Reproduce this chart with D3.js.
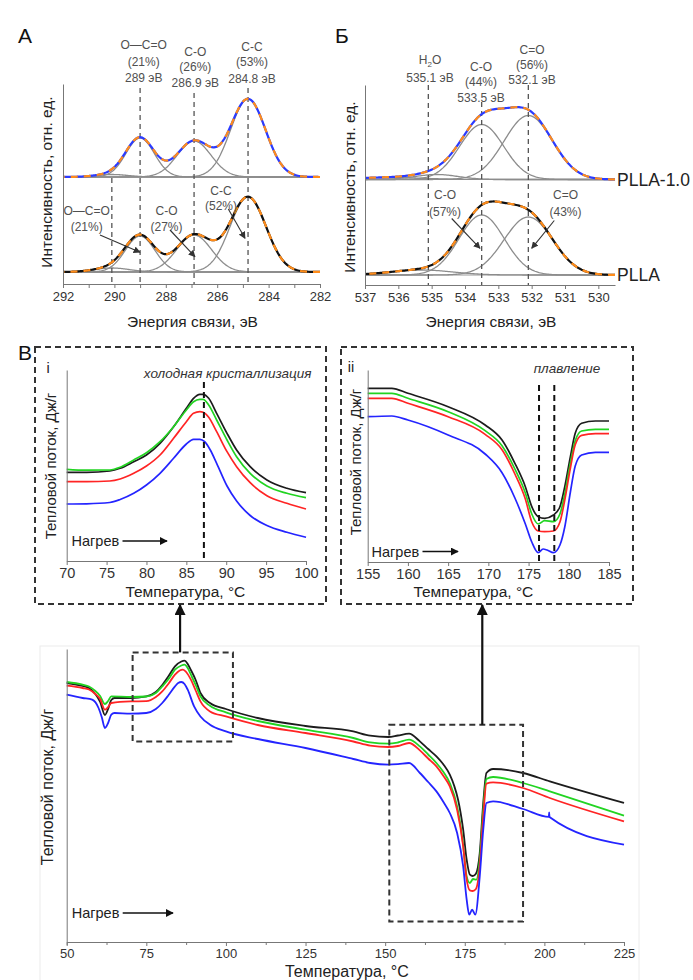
<!DOCTYPE html>
<html lang="ru">
<head>
<meta charset="UTF-8">
<title>РФЭС и ДСК PLLA</title>
<script src="https://d3js.org/d3.v7.min.js"></script>
<style>
    body { margin: 0; background: #fff; }
    svg { display: block; font-family: 'Liberation Sans', Arial, sans-serif; }
</style>
</head>
<body>
<svg id="fig" width="693" height="980"></svg>
<script>
    // ---------- data ----------
    // XPS fitted components: energy (eV), height (a.u.), FWHM (eV)
    const c1sPeaksPLLA10 = [
        { e: 290.1, h: 2.5, w: 1.5 },
        { e: 289.0, h: 39, w: 1.3 },
        { e: 286.9, h: 36, w: 1.55 },
        { e: 284.8, h: 78, w: 1.6 }
    ];
    const c1sPeaksPLLA = [
        { e: 290.1, h: 4, w: 1.6 },
        { e: 289.0, h: 36, w: 1.35 },
        { e: 286.9, h: 37, w: 1.6 },
        { e: 284.8, h: 75, w: 1.65 }
    ];
    const o1sPeaksPLLA10 = [
        { e: 536.3, h: 2, w: 2.5 },
        { e: 534.85, h: 5, w: 1.5 },
        { e: 533.5, h: 55, w: 1.55 },
        { e: 532.1, h: 64, w: 1.7 }
    ];
    const o1sPeaksPLLA = [
        { e: 535.3, h: 5, w: 2.2 },
        { e: 533.5, h: 60, w: 1.6 },
        { e: 532.1, h: 58, w: 1.72 }
    ];
    const c1sMarks = [290.1, 289.0, 286.9, 284.8];
    const o1sMarks = [535.1, 533.5, 532.1];
    const c1sTicks = d3.range(282, 293, 1);
    const o1sTicks = d3.range(530, 538, 1);
    const sampleNames = ["PLLA-1.0", "PLLA"];

    const c1sTopLabels = [["O—C=O", "(21%)", "289 эВ"], ["C-O", "(26%)", "286.9 эВ"], ["C-C", "(53%)", "284.8 эВ"]];
    const c1sBottomLabels = [["O—C=O", "(21%)"], ["C-O", "(27%)"], ["C-C", "(52%)"]];
    const o1sTopLabels = [["H2O", "535.1 эВ"], ["C-O", "(44%)", "533.5 эВ"], ["C=O", "(56%)", "532.1 эВ"]];
    const o1sBottomLabels = [["C-O", "(57%)"], ["C=O", "(43%)"]];

    // DSC curves: [temperature °C, heat flow a.u.]
    const zoomLowBlack = [[70,88.7],[72.5,88.6],[75.4,90],[76.7,92.7],[78.4,99.3],[80,106],[81.7,117.7],[83.4,134.3],[85,152.7],[85.9,162.7],[86.7,166.7],[87.1,166.7],[87.8,162.7],[88.8,147.7],[90.1,127.7],[91.3,111],[93,94.3],[95.1,81],[97.6,72.7],[100,68.3]];
    const zoomLowGreen = [[70,91.7],[72.5,90.8],[75.4,91],[76.7,93.7],[78.4,101],[80,108.3],[81.7,119.3],[83.4,134.3],[85,151],[85.9,159.3],[86.7,161.7],[87.1,161.7],[87.8,156],[88.8,141],[90.1,121],[91.3,104.3],[93,87.7],[95.1,75],[97.6,67.7],[100,63.3]];
    const zoomLowRed = [[70,79.3],[72.5,79.3],[75.4,80],[76.7,82],[78.4,87.7],[80,95],[81.7,106],[83.4,122.7],[85,139.3],[85.9,147.7],[86.7,149.3],[87.1,148.7],[87.8,143.7],[88.8,129.3],[90.1,109.3],[91.3,94.3],[93,78.3],[95.1,65.3],[97.6,57.7],[100,52]];
    const zoomLowBlue = [[70,57],[72.5,57.2],[75.4,58.5],[76.7,61.5],[78.4,67.7],[80,76],[81.7,87.7],[83.4,102.7],[85,117],[85.9,121.7],[86.7,121.7],[87.3,119.3],[88,111],[88.8,97.7],[90.1,75],[91.3,60],[93,45.5],[95.1,35.5],[97.6,28.7],[100,23.7]];

    const zoomHighBlack = [[155,173.7],[158,173.7],[160,168.7],[165,155.3],[169.6,137],[171.7,122],[173.3,98.7],[174.6,75.3],[175.4,55.3],[176.2,45.3],[177,43.7],[178.1,47],[178.9,55.3],[179.5,75.3],[180.2,105.3],[180.8,128.7],[181.6,138.7],[183.3,141],[185,141]];
    const zoomHighGreen = [[155,168.7],[158,168.7],[160,163.7],[165,150.3],[169.6,131.3],[171.7,116.3],[173.3,93],[174.6,69],[175.4,48],[176.2,38],[177,41.3],[178.1,40.3],[178.9,48],[179.5,68],[180.2,99],[180.8,121.3],[181.6,131],[183.3,132.7],[185,132.7]];
    const zoomHighRed = [[155,163.7],[158,163.7],[160,158.7],[165,145.3],[169.6,127.7],[171.7,112.3],[173.3,88],[174.6,63],[175.4,40],[176.2,31],[177,30.3],[178.1,31],[178.9,40],[179.5,62],[180.2,94],[180.8,117.3],[181.6,126.7],[183.3,128.3],[185,128.3]];
    const zoomHighBlue = [[155,145.3],[158,146],[160,142],[165,127],[169.6,108],[171.7,89.3],[173.3,64],[174.6,38],[175.4,20],[176.2,9.3],[176.8,13],[177.3,12],[178.1,9.3],[178.9,17],[179.5,35],[180.2,70],[180.8,96],[181.6,107],[183.3,109.7],[185,109.7]];

    const fullBlack = [[50,259],[55,256],[57,254],[59,248],[60.5,240],[62,227],[63,233],[64,242],[65,244],[70,244],[75,245.6],[78,250],[80,257],[82,266],[84,275.6],[86,280.5],[87,281.3],[88,278],[89,272],[90.5,262],[92,249],[95,239],[100,233],[110,224],[125,216],[140,210.6],[145.3,206.3],[151,205],[154,206.5],[157.5,208.3],[160.9,200.6],[163.5,193],[166.1,185.6],[168.3,177.5],[170.3,167.3],[171.7,156],[172.9,142.3],[174.5,112.3],[175.6,82.3],[176.6,67.3],[177.5,66],[178.5,68.3],[179.7,89],[180.8,139],[181.8,169],[183.9,173],[193.3,169],[201.7,160.6],[225,139]];
    const fullGreen = [[50,260],[55,257.3],[57,255.5],[59,251],[60.5,246],[62,238],[63,241],[64,245.6],[70,245],[75,245.5],[78,249],[80,255.6],[82,263],[84,272.3],[86,276.5],[87,277.3],[88,274],[89,267.3],[90.5,257],[92,245.6],[95,236.3],[100,229.6],[110,221],[125,212.3],[140,204],[145.3,199.6],[151,198.3],[154,199.5],[157.5,202.3],[160.9,195.6],[163.5,187.5],[166.1,179],[168.3,170],[170.3,159],[172.6,135.6],[174.3,102.3],[175.6,65.6],[176.6,59],[177.6,63],[178.6,62.3],[179.7,82.3],[180.8,132.3],[181.8,163],[183.9,165],[193.3,159],[201.7,150.6],[225,126.3]];
    const fullRed = [[50,256.3],[55,254],[57,252.5],[59,248],[60.5,243],[62,232.3],[63,235],[64,239],[70,240.6],[75,240.8],[78,245],[80,250.6],[82,258.5],[84,267.3],[85.5,271.5],[86.5,272.3],[87.5,270],[89,262.3],[90.5,251.5],[92,240.6],[95,230.6],[100,225.6],[110,217],[125,209],[140,200.5],[145.3,196.3],[151,195],[154,196],[157.5,199],[160.9,191.6],[163.5,183.5],[166.1,175.6],[168.3,166],[170.3,155.6],[172.6,132.3],[174.5,95.6],[175.6,62.3],[176.6,51.6],[177.5,51],[178.5,53],[179.7,75.6],[180.8,125.6],[181.8,158.3],[183.9,159.6],[193.3,154],[201.7,144],[225,120.6]];
    const fullBlue = [[50,247.3],[55,244],[58,242.3],[60,234],[61,225],[62,214],[63,219],[64,227.3],[65,229],[70,228.3],[75,229],[78,233],[80,239],[82,247],[84,255.6],[85,259],[86,260],[87,258],[88,252.3],[90,235.6],[92,225.5],[95,217.3],[100,210.6],[110,203],[125,194],[140,183],[145.3,179],[151,177.3],[154,177.8],[157.5,179],[160.9,169],[163.5,160],[166.1,150.6],[168.3,140],[170.3,129],[172.6,109],[174.5,75.6],[175.6,42.3],[176.4,27.3],[177.3,32.3],[178.3,27.3],[179.7,65.6],[180.8,112.3],[181.8,139],[183.9,140.6],[193.3,133],[201.4,125.2],[201.5,129.5],[201.6,125],[225,97.3]];

    const dscColors = ["#1c1c1c", "#22d422", "#ff2424", "#2424ff"];
    const coldCrystT = [87.2];
    const meltT = [176.3, 178.2];
    const zoomWindows = [[70.7, 102.2, 289.6, 200.6], [151.3, 193.3, 217.3, 20.6]]; // x0, x1, yTop, yBottom
    const arrowT = [85.6, 180.5];

    // ---------- helpers ----------
    const svg = d3.select("#fig");
    const defs = svg.append("defs");
    function marker(id, size, color) {
        defs.append("marker").attr("id", id)
            .attr("viewBox", "0 0 10 10").attr("refX", 9).attr("refY", 5)
            .attr("markerWidth", size).attr("markerHeight", size)
            .attr("markerUnits", "userSpaceOnUse").attr("orient", "auto")
            .append("path").attr("d", "M0,0L10,5L0,10z").attr("fill", color);
    }
    marker("headSmall", 7, "#333");
    marker("headMid", 8, "#111");
    marker("headBig", 11, "#111");

    function gauss(p, e) {
        const d = (e - p.e) / p.w;
        return p.h * Math.exp(-4 * Math.LN2 * d * d);
    }

    function text(g, x, y, str, size, opts = {}) {
        return g.append("text").attr("x", x).attr("y", y).text(str)
            .attr("font-size", size)
            .attr("text-anchor", opts.anchor || "middle")
            .attr("fill", opts.fill || "#222")
            .attr("font-style", opts.italic ? "italic" : null);
    }

    function labelBlock(g, cx, ys, lines) {
        lines.forEach((s, i) => {
            const t = g.append("text").attr("x", cx).attr("y", ys[i])
                .attr("font-size", 12).attr("text-anchor", "middle").attr("fill", "#505050");
            if (s === "H2O") {
                t.append("tspan").text("H");
                t.append("tspan").text("2").attr("font-size", 8).attr("dy", 3);
                t.append("tspan").text("O").attr("dy", -3);
            } else {
                t.text(s);
            }
        });
    }

    function arrow(g, p0, p1, head, width, color) {
        g.append("line").attr("x1", p0[0]).attr("y1", p0[1]).attr("x2", p1[0]).attr("y2", p1[1])
            .attr("stroke", color).attr("stroke-width", width).attr("marker-end", `url(#${head})`);
    }

    function styleAxis(a, size) {
        a.selectAll("path, line").attr("stroke", "#777");
        a.selectAll("text").attr("font-size", size).attr("fill", "#333")
            .attr("font-family", "'Liberation Sans', Arial, sans-serif");
    }

    // ---------- XPS panels ----------
    function xpsPanel(o) {
        const g = svg.append("g");
        const x = d3.scaleLinear().domain(o.xDomain).range(o.xRange);
        const y = d3.scaleLinear().domain([0, 200]).range(o.yRange);
        const lo = Math.min(...o.xDomain), hi = Math.max(...o.xDomain);
        const grid = d3.range(lo, hi + 0.001, 0.04);

        o.spectra.forEach(s => {
            g.append("line").attr("x1", o.xRange[0]).attr("x2", o.xRange[1])
                .attr("y1", y(s.offset)).attr("y2", y(s.offset))
                .attr("stroke", "#9a9a9a").attr("stroke-width", 1.2);
            const comp = d3.line().x(e => x(e));
            s.peaks.forEach(p => {
                g.append("path").datum(grid)
                    .attr("d", comp.y(e => y(s.offset + gauss(p, e))))
                    .attr("fill", "none").attr("stroke", "#8c8c8c").attr("stroke-width", 1.3);
            });
        });

        o.marks.forEach((m, i) => {
            g.append("line").attr("x1", x(m)).attr("x2", x(m))
                .attr("y1", o.markTop[i]).attr("y2", y(0))
                .attr("stroke", "#555").attr("stroke-width", 1.3).attr("stroke-dasharray", "5,4");
        });

        o.spectra.forEach(s => {
            const env = grid.map(e => [e, d3.sum(s.peaks, p => gauss(p, e))]);
            const line = d3.line().x(d => x(d[0])).y(d => y(s.offset + d[1]));
            g.append("path").datum(env).attr("d", line)
                .attr("fill", "none").attr("stroke", s.color).attr("stroke-width", 2.2);
            g.append("path").datum(env).attr("d", line)
                .attr("fill", "none").attr("stroke", "#ff8c1a").attr("stroke-width", 2.2)
                .attr("stroke-dasharray", "7,6");
        });

        const ax = g.append("g").attr("transform", `translate(0,${y(0)})`)
            .call(d3.axisBottom(x).tickValues(o.ticks).tickFormat(o.fmt).tickSize(4).tickSizeOuter(0).tickPadding(4));
        styleAxis(ax, 13);
        const ay = g.append("g").attr("transform", `translate(${o.xRange[0]},0)`)
            .call(d3.axisLeft(y).tickValues([]).tickSizeOuter(0));
        styleAxis(ay, 13);

        text(g, (o.xRange[0] + o.xRange[1]) / 2 + o.titleDx, 327, "Энергия связи, эВ", 15.5);
        g.append("text").attr("transform", `translate(${o.yTitleX},${o.yTitleY}) rotate(-90)`)
            .attr("text-anchor", "middle").attr("font-size", 15.5).attr("fill", "#222")
            .text("Интенсивность, отн. ед.");
        return { g, x, y };
    }

    const A = xpsPanel({
        xDomain: [292, 282], xRange: [63, 320], yRange: [284, 84],
        ticks: c1sTicks, fmt: d => d % 2 === 0 ? d : "",
        spectra: [
            { peaks: c1sPeaksPLLA10, offset: 107, color: "#2b3bff" },
            { peaks: c1sPeaksPLLA, offset: 12, color: "#111" }
        ],
        marks: c1sMarks, markTop: [178, 88, 93, 88],
        titleDx: 1, yTitleX: 52, yTitleY: 182
    });
    text(A.g, 18, 43, "А", 21, { anchor: "start", fill: "#111" });
    labelBlock(A.g, 143.7, [48.8, 65.5, 82], c1sTopLabels[0]);
    labelBlock(A.g, 195.3, [56, 71, 87], c1sTopLabels[1]);
    labelBlock(A.g, 252, [51, 66, 82.6], c1sTopLabels[2]);
    labelBlock(A.g, 86.7, [214.5, 230.5], c1sBottomLabels[0]);
    labelBlock(A.g, 166.5, [215, 231], c1sBottomLabels[1]);
    labelBlock(A.g, 221, [195, 209.5], c1sBottomLabels[2]);
    arrow(A.g, [100, 235], [140, 252.3], "headSmall", 1.1, "#333");
    arrow(A.g, [170, 230], [195, 256.7], "headSmall", 1.1, "#333");
    arrow(A.g, [228.3, 209], [245, 238.3], "headSmall", 1.1, "#333");

    const B = xpsPanel({
        xDomain: [537, 529.5], xRange: [365, 615], yRange: [285, 85],
        ticks: o1sTicks, fmt: d => d,
        spectra: [
            { peaks: o1sPeaksPLLA10, offset: 105.5, color: "#2b3bff" },
            { peaks: o1sPeaksPLLA, offset: 10, color: "#111" }
        ],
        marks: o1sMarks, markTop: [85, 102, 85],
        titleDx: 1, yTitleX: 355, yTitleY: 187
    });
    text(B.g, 335, 43, "Б", 21, { anchor: "start", fill: "#111" });
    text(B.g, 617, B.y(105.5) + 6, sampleNames[0], 17.5, { anchor: "start" });
    text(B.g, 617, B.y(10) + 6, sampleNames[1], 17.5, { anchor: "start" });
    labelBlock(B.g, 430, [64.3, 82.3], o1sTopLabels[0]);
    labelBlock(B.g, 481, [71, 86, 101.6], o1sTopLabels[1]);
    labelBlock(B.g, 532, [53.6, 68.6, 83.6], o1sTopLabels[2]);
    labelBlock(B.g, 445, [199.3, 216], o1sBottomLabels[0]);
    labelBlock(B.g, 565.5, [199.3, 216], o1sBottomLabels[1]);
    arrow(B.g, [451.7, 218.5], [480, 248.3], "headSmall", 1.1, "#333");
    arrow(B.g, [554.3, 220.5], [531.7, 248.3], "headSmall", 1.1, "#333");

    // ---------- DSC ----------
    const dscLine = (x, y) => d3.line().x(d => x(d[0])).y(d => y(d[1])).curve(d3.curveMonotoneX);

    function dscPanel(o) {
        const g = svg.append("g");
        const x = d3.scaleLinear().domain(o.xDomain).range(o.xRange);
        const y = d3.scaleLinear().domain(o.yDomain).range(o.yRange);
        o.series.forEach((s, i) => {
            g.append("path").datum(s).attr("d", dscLine(x, y))
                .attr("fill", "none").attr("stroke", dscColors[i]).attr("stroke-width", o.lw);
        });
        const ax = g.append("g").attr("transform", `translate(0,${o.yRange[0]})`)
            .call(d3.axisBottom(x).tickValues(o.ticks).tickSize(4).tickSizeOuter(0).tickPadding(3));
        styleAxis(ax, o.tickSize);
        if (o.minor) {
            const am = g.append("g").attr("transform", `translate(0,${o.yRange[0]})`)
                .call(d3.axisBottom(x).tickValues(o.minor).tickSize(3).tickFormat(""));
            styleAxis(am, o.tickSize);
        }
        const ay = g.append("g").attr("transform", `translate(${o.xRange[0]},0)`)
            .call(d3.axisLeft(y).tickValues([]).tickSizeOuter(0));
        styleAxis(ay, o.tickSize);
        text(g, (o.xRange[0] + o.xRange[1]) / 2 + o.titleDx, o.titleY, "Температура, °C", o.titleSize);
        g.append("text").attr("transform", `translate(${o.yTitleX},${o.yTitleY}) rotate(-90)`)
            .attr("text-anchor", "middle").attr("font-size", o.yTitleSize).attr("fill", "#222")
            .text("Тепловой поток, Дж/г");
        text(g, o.heat[0], o.heat[1], "Нагрев", 14.5, { anchor: "start" });
        arrow(g, [o.heat[0] + 51, o.heat[1] - 5], [o.heat[2], o.heat[1] - 5], "headMid", 1.4, "#111");
        return { g, x, y };
    }

    // dashed frames around the zoomed panels
    const frames = [[35, 347, 291, 257], [341, 347, 292, 257]];
    frames.forEach(f => {
        svg.append("rect").attr("x", f[0]).attr("y", f[1]).attr("width", f[2]).attr("height", f[3])
            .attr("fill", "none").attr("stroke", "#333").attr("stroke-width", 2).attr("stroke-dasharray", "6,4");
    });
    text(svg, 18, 360, "В", 21, { anchor: "start", fill: "#111" });

    const P1 = dscPanel({
        xDomain: [70, 100], xRange: [66.7, 306], yDomain: [0, 191], yRange: [561, 370],
        series: [zoomLowBlack, zoomLowGreen, zoomLowRed, zoomLowBlue], lw: 1.7,
        ticks: d3.range(70, 101, 5), tickSize: 14.5,
        titleDx: -1, titleY: 597, titleSize: 15.5,
        yTitleX: 56, yTitleY: 466, yTitleSize: 15,
        heat: [71.5, 546, 167]
    });
    coldCrystT.forEach(t => {
        P1.g.append("line").attr("x1", P1.x(t)).attr("x2", P1.x(t)).attr("y1", 382).attr("y2", 561)
            .attr("stroke", "#111").attr("stroke-width", 2).attr("stroke-dasharray", "6,4");
    });
    text(P1.g, 48, 373, "i", 14.5);
    text(P1.g, 311.5, 378, "холодная кристаллизация", 13.5, { anchor: "end", italic: true, fill: "#333" });

    const P2 = dscPanel({
        xDomain: [155, 185], xRange: [367.7, 609], yDomain: [0, 192], yRange: [562, 370],
        series: [zoomHighBlack, zoomHighGreen, zoomHighRed, zoomHighBlue], lw: 1.7,
        ticks: d3.range(155, 186, 5), tickSize: 14.5,
        titleDx: -15, titleY: 597, titleSize: 15.5,
        yTitleX: 361, yTitleY: 462, yTitleSize: 15,
        heat: [371.5, 556.5, 458]
    });
    meltT.forEach(t => {
        P2.g.append("line").attr("x1", P2.x(t)).attr("x2", P2.x(t)).attr("y1", 385).attr("y2", 562)
            .attr("stroke", "#111").attr("stroke-width", 2).attr("stroke-dasharray", "6,4");
    });
    text(P2.g, 351, 372, "ii", 14.5);
    text(P2.g, 567, 372.5, "плавление", 13.5, { italic: true, fill: "#333" });

    // full-range curve
    svg.append("rect").attr("x", 40).attr("y", 646).attr("width", 599).attr("height", 340)
        .attr("fill", "none").attr("stroke", "#ececec").attr("stroke-width", 1);
    const P3 = dscPanel({
        xDomain: [50, 225], xRange: [66.7, 624], yDomain: [0, 293], yRange: [942, 649],
        series: [fullBlack, fullGreen, fullRed, fullBlue], lw: 1.8,
        ticks: d3.range(50, 226, 25), minor: d3.range(62.5, 225, 25), tickSize: 13,
        titleDx: 1.5, titleY: 977, titleSize: 16,
        yTitleX: 53, yTitleY: 787, yTitleSize: 16,
        heat: [71.7, 918, 173]
    });
    zoomWindows.forEach(w => {
        P3.g.append("rect").attr("x", P3.x(w[0])).attr("y", P3.y(w[2]))
            .attr("width", P3.x(w[1]) - P3.x(w[0])).attr("height", P3.y(w[3]) - P3.y(w[2]))
            .attr("fill", "none").attr("stroke", "#333").attr("stroke-width", 2).attr("stroke-dasharray", "6,4");
    });
    arrowT.forEach((t, i) => {
        arrow(P3.g, [P3.x(t), P3.y(zoomWindows[i][2])], [P3.x(t), 605], "headBig", 2.2, "#111");
    });
</script>
</body>
</html>
